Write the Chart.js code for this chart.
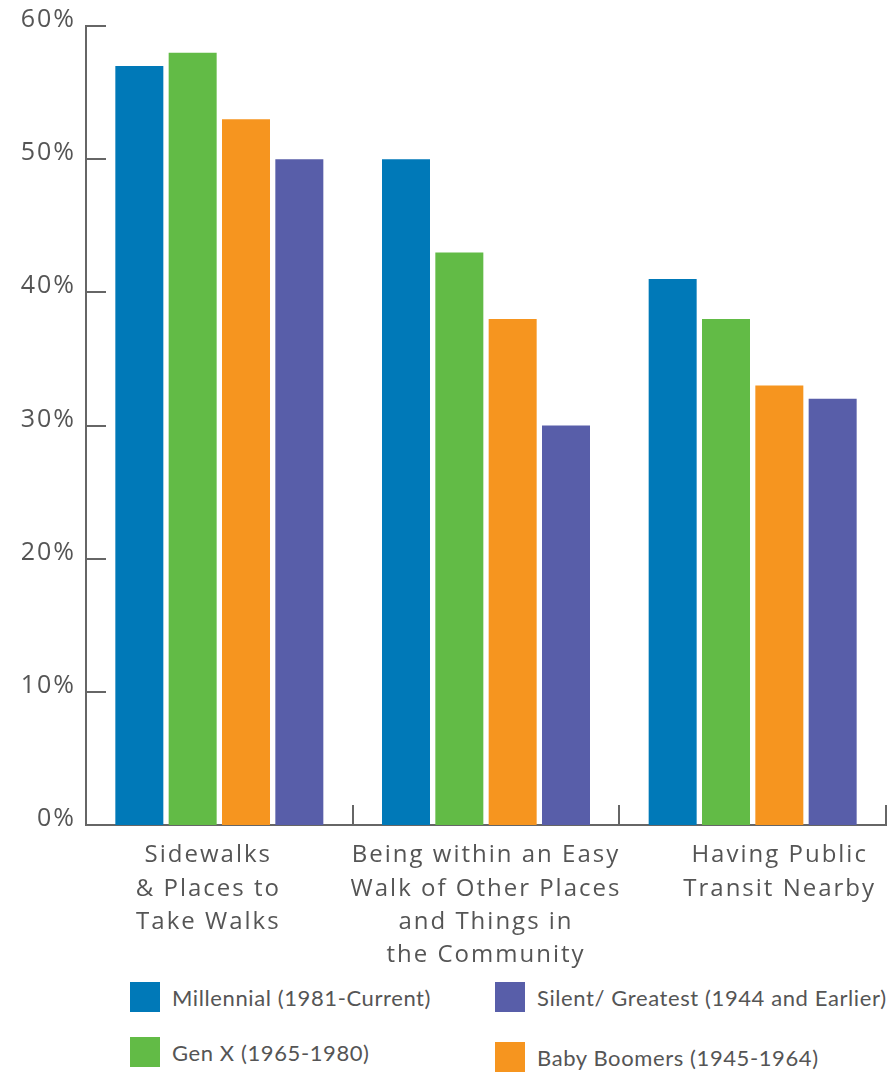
<!DOCTYPE html>
<html><head><meta charset="utf-8">
<script src="https://cdn.jsdelivr.net/npm/chart.js@4.4.0/dist/chart.umd.min.js"></script>
<style>
html,body{margin:0;padding:0;background:#fff;width:889px;height:1072px;overflow:hidden;}
#wrap{position:relative;width:889px;height:1072px;}
#c{position:absolute;left:0;top:0;}
.lg{position:absolute;display:flex;align-items:center;height:30px;font-family:Lato,sans-serif;font-size:22px;color:#555;letter-spacing:0.6px;white-space:nowrap;}
.lg .sw{display:inline-block;width:30px;height:30px;margin-right:12px;flex:none;}
</style></head><body>
<div id="wrap"><canvas id="c" width="889" height="975"></canvas><div id="legend"></div></div>
<script>
const categories = [
  ["Sidewalks", "& Places to", "Take Walks"],
  ["Being within an Easy", "Walk of Other Places", "and Things in", "the Community"],
  ["Having Public", "Transit Nearby"]
];
const seriesNames = ["Millennial (1981-Current)", "Gen X (1965-1980)", "Baby Boomers (1945-1964)", "Silent/ Greatest (1944 and Earlier)"];
const millennial = [57, 50, 41];
const genX = [58, 43, 38];
const babyBoomers = [53, 38, 33];
const silentGreatest = [50, 30, 32];
const yTickValues = [0, 10, 20, 30, 40, 50, 60];
const yTickLabels = ["0%", "10%", "20%", "30%", "40%", "50%", "60%"];

const colors = ["#0079B8", "#62BB46", "#F6951F", "#585EA9"];
const seriesValues = [millennial, genX, babyBoomers, silentGreatest];
const labelShifts = [-11, 0, 27];

const spacing = {
  id: 'spacing',
  beforeUpdate(chart) { chart.ctx.letterSpacing = '2px'; },
  beforeDraw(chart) {
    chart.ctx.letterSpacing = '2px';
    const x = chart.scales.x;
    const items = x.getLabelItems(chart.chartArea);
    items.forEach((it, i) => {
      if (!it._shifted && it.options && it.options.translation) {
        it.options.translation[0] += labelShifts[i] || 0;
        it._shifted = true;
      }
    });
  }
};

const tickMarks = {
  id: 'tickMarks',
  afterDraw(chart) {
    const { ctx, chartArea: a, scales: { x, y } } = chart;
    ctx.save();
    ctx.strokeStyle = '#666';
    ctx.lineWidth = 2;
    ctx.beginPath();
    y.ticks.forEach(t => {
      const py = Math.round(y.getPixelForValue(t.value));
      ctx.moveTo(a.left, py); ctx.lineTo(a.left + 20, py);
    });
    const n = x.ticks.length;
    const w = (x.right - x.left) / n;
    for (let i = 0; i < n; i++) {
      const px = Math.round(x.getPixelForValue(i) + w / 2);
      ctx.moveTo(px, a.bottom); ctx.lineTo(px, a.bottom - 20);
    }
    ctx.stroke();
    ctx.restore();
  }
};

const chart = new Chart(document.getElementById('c'), {
  type: 'bar',
  data: {
    labels: categories,
    datasets: seriesNames.map((name, i) => ({
      label: name,
      data: seriesValues[i],
      backgroundColor: colors[i],
      borderWidth: 0,
      categoryPercentage: 0.8,
      barPercentage: 0.9
    }))
  },
  options: {
    responsive: false,
    animation: false,
    events: [],
    layout: { padding: { left: 0, right: 3, top: 26, bottom: 0 } },
    plugins: { legend: { display: false }, tooltip: { enabled: false } },
    scales: {
      y: {
        min: 0, max: 60,
        afterFit(s) { s.width = 86; },
        afterBuildTicks(s) { s.ticks = yTickValues.map(v => ({ value: v })); },
        grid: { display: false, drawTicks: false },
        border: { display: true, color: '#666', width: 2 },
        ticks: {
          padding: 10,
          labelOffset: -6,
          color: '#555',
          font: { family: 'Open Sans', size: 25 },
          callback: (v) => yTickLabels[yTickValues.indexOf(v)]
        }
      },
      x: {
        afterFit(s) { s.height = 150; },
        grid: { display: false, drawTicks: false },
        border: { display: true, color: '#666', width: 2 },
        ticks: {
          padding: 14,
          color: '#555',
          maxRotation: 0,
          autoSkip: false,
          font: { family: 'Open Sans', size: 24, lineHeight: 1.385 }
        }
      }
    }
  },
  plugins: [spacing, tickMarks]
});

const legendPos = [
  { left: 130, top: 982 },
  { left: 130, top: 1037 },
  { left: 495, top: 1042 },
  { left: 495, top: 982 }
];
const legend = document.getElementById('legend');
chart.data.datasets.forEach((ds, i) => {
  const d = document.createElement('div');
  d.className = 'lg';
  d.style.left = legendPos[i].left + 'px';
  d.style.top = legendPos[i].top + 'px';
  const sw = document.createElement('span');
  sw.className = 'sw';
  sw.style.background = ds.backgroundColor;
  const t = document.createElement('span');
  t.textContent = ds.label;
  d.appendChild(sw); d.appendChild(t);
  legend.appendChild(d);
});
</script>
</body></html>
